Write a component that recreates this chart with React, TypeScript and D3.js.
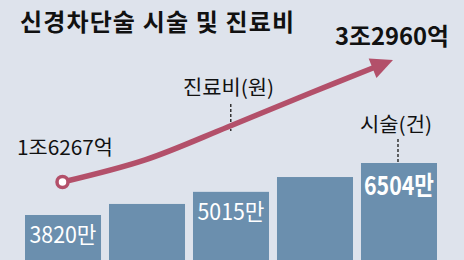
import React from "react";
import * as d3 from "d3";

const years = ["2010", "2011", "2012", "2013", "2014"];
const procedures = [3820, 4390, 5015, 5780, 6504]; // 만 건
const costs = [16267, 19300, 23800, 28450, 32960]; // 억 원
const barLabels = ["3820만", "", "5015만", "", "6504만"];

const W = 464;
const H = 260;
const BG = "#dee3ec";
const BAR = "#6b8fae";
const LINE = "#b3506a";
const FONT = "'Noto Sans CJK KR', 'Noto Sans', sans-serif";

export default function App() {
  const x = d3.scaleBand<string>().domain(years).range([25, 437]).paddingInner(0.095).paddingOuter(0);
  const yBar = d3.scaleLinear().domain([0, 6504]).range([289, 163]);
  const xLine = d3.scalePoint<string>().domain(years).range([62.5, 393]);
  const yLine = d3.scaleLinear().domain([16267, 32960]).range([182, 60]);

  const pts: [number, number][] = years.map((yr, i) => [xLine(yr)!, yLine(costs[i])]);
  const n = pts.length;
  const [tx, ty] = pts[n - 1];
  const [px, py] = pts[n - 2];
  const ang = Math.atan2(ty - py, tx - px);
  const headLen = 22;
  const headHalf = 10.5;
  const bx = tx - Math.cos(ang) * headLen;
  const by = ty - Math.sin(ang) * headLen;
  const perpX = -Math.sin(ang);
  const perpY = Math.cos(ang);
  const linePts: [number, number][] = [...pts.slice(0, n - 1), [bx + Math.cos(ang) * 3, by + Math.sin(ang) * 3]];
  const lineGen = d3.line().curve(d3.curveCatmullRom.alpha(0.5));
  const headPts = [
    [tx, ty],
    [bx + perpX * headHalf, by + perpY * headHalf],
    [bx - perpX * headHalf, by - perpY * headHalf],
  ]
    .map((p) => p.join(","))
    .join(" ");

  const bw = x.bandwidth();
  const midX = xLine(years[2])!;

  return (
    <svg
      width={W}
      height={H}
      style={{ position: "absolute", left: 0, top: 0, display: "block" }}
      fontFamily={FONT}
    >
      <rect x={0} y={0} width={W} height={H} fill={BG} />
      <text x={20} y={31} fontSize={24} fontWeight={700} fill="#111" textLength={274} lengthAdjust="spacing">
        신경차단술 시술 및 진료비
      </text>

      {years.map((yr, i) => (
        <rect key={yr} x={x(yr)} y={yBar(procedures[i])} width={bw} height={H - yBar(procedures[i])} fill={BAR} />
      ))}

      {years.map((yr, i) =>
        barLabels[i] ? (
          <text
            key={"l" + yr}
            x={x(yr)! + bw / 2}
            y={yBar(procedures[i]) + (i === 4 ? 32 : 28)}
            textAnchor="middle"
            fontSize={i === 4 ? 26 : 23}
            fontWeight={i === 4 ? 700 : 400}
            fill="#fff"
            textLength={i === 4 ? 70 : 67}
            lengthAdjust="spacingAndGlyphs"
          >
            {barLabels[i]}
          </text>
        ) : null
      )}

      <line x1={midX + 3} x2={midX + 3} y1={104} y2={131} stroke="#333" strokeWidth={1.5} strokeDasharray="3,2" />
      <line
        x1={x(years[4])! + bw / 2 - 1}
        x2={x(years[4])! + bw / 2 - 1}
        y1={139}
        y2={yBar(procedures[4])}
        stroke="#333"
        strokeWidth={1.5}
        strokeDasharray="3,2"
      />

      <path d={lineGen(linePts) || ""} fill="none" stroke={LINE} strokeWidth={5.5} />
      <polygon points={headPts} fill={LINE} />
      <circle cx={pts[0][0]} cy={pts[0][1]} r={5.5} fill="#fff" stroke={LINE} strokeWidth={3.5} />

      <text x={17} y={155} fontSize={20} fill="#111" textLength={96} lengthAdjust="spacingAndGlyphs">
        1조6267억
      </text>
      <text x={335} y={45} fontSize={24} fontWeight={700} fill="#111" textLength={114} lengthAdjust="spacingAndGlyphs">
        3조2960억
      </text>
      <text x={183} y={95} fontSize={20} fill="#111" textLength={91} lengthAdjust="spacingAndGlyphs">
        진료비(원)
      </text>
      <text x={360} y={132} fontSize={20} fill="#111" textLength={72} lengthAdjust="spacingAndGlyphs">
        시술(건)
      </text>
    </svg>
  );
}
